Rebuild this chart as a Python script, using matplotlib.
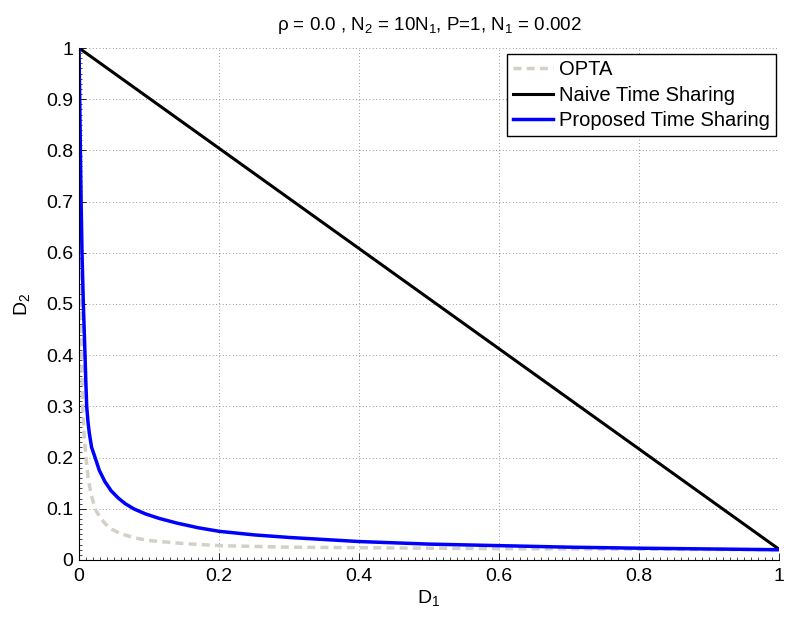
import matplotlib
matplotlib.use("Agg")
import matplotlib.pyplot as plt
from matplotlib.ticker import MultipleLocator

plt.rcParams['font.family'] = ['Liberation Sans', 'DejaVu Sans']
plt.rcParams['mathtext.default'] = 'regular'

# courbes
d1_opta = [0.0, 0.001, 0.002, 0.004, 0.0053, 0.007, 0.010, 0.013, 0.017, 0.023, 0.030, 0.038, 0.047,
           0.060, 0.080, 0.100, 0.116, 0.150, 0.200, 0.300, 0.400, 0.600, 0.800, 1.0]
d2_opta = [1.0, 0.75, 0.55, 0.40, 0.30, 0.25, 0.20, 0.16, 0.13, 0.10, 0.083, 0.070, 0.060,
           0.051, 0.043, 0.038, 0.036, 0.032, 0.028, 0.025, 0.024, 0.022, 0.021, 0.020]

d1_naive = [0.0, 1.0]
d2_naive = [1.0, 0.021]

d1_prop = [0.0, 0.001, 0.002, 0.003, 0.0043, 0.0062, 0.0086, 0.0097, 0.011, 0.0128, 0.0148, 0.018,
           0.023, 0.029, 0.037, 0.046, 0.056, 0.066, 0.078, 0.095, 0.115, 0.14, 0.17, 0.2, 0.25,
           0.3, 0.4, 0.5, 0.6, 0.7, 0.8, 0.9, 1.0]
d2_prop = [1.0, 0.90, 0.80, 0.70, 0.60, 0.50, 0.40, 0.35, 0.30, 0.27, 0.247, 0.22,
           0.20, 0.175, 0.153, 0.135, 0.121, 0.110, 0.10, 0.09, 0.081, 0.072, 0.063, 0.056, 0.049,
           0.044, 0.036, 0.031, 0.028, 0.025, 0.023, 0.0215, 0.020]

x_ticks = [0, 0.2, 0.4, 0.6, 0.8, 1]
x_labels = ['0', '0.2', '0.4', '0.6', '0.8', '1']
y_ticks = [0, 0.1, 0.2, 0.3, 0.4, 0.5, 0.6, 0.7, 0.8, 0.9, 1]
y_labels = ['0', '0.1', '0.2', '0.3', '0.4', '0.5', '0.6', '0.7', '0.8', '0.9', '1']

fig = plt.figure(figsize=(8.07, 6.18), dpi=100)
ax = fig.add_axes([0.0979, 0.0939, 0.8674, 0.8284])

ax.plot(d1_opta, d2_opta, '--', color='#d4d0c8', lw=2.5, dashes=(2.3, 1.5), label='OPTA')
ax.plot(d1_naive, d2_naive, '-', color='black', lw=2.2, label='Naive Time Sharing')
ax.plot(d1_prop, d2_prop, '-', color='#0000ff', lw=2.5, label='Proposed Time Sharing')

ax.set_xlim(0, 1)
ax.set_ylim(0, 1)
ax.set_xticks(x_ticks)
ax.set_xticklabels(x_labels)
ax.set_yticks(y_ticks)
ax.set_yticklabels(y_labels)
ax.xaxis.set_minor_locator(MultipleLocator(0.01))
ax.yaxis.set_minor_locator(MultipleLocator(0.01))
ax.tick_params(which='major', direction='in', length=5, width=0.6, labelsize=14)
ax.tick_params(axis='x', which='major', pad=6)
ax.tick_params(axis='y', which='major', pad=4)
ax.tick_params(which='minor', direction='in', length=2, width=0.5)
ax.spines['top'].set_visible(False)
ax.spines['right'].set_visible(False)
ax.grid(True, which='major', linestyle=(0, (1, 3)), color='#777777', lw=0.6)

ax.set_xlabel('D$_1$', fontsize=14, labelpad=2)
ax.set_ylabel('D$_2$', fontsize=14, labelpad=10)
ax.set_title('ρ = 0.0 , N$_2$ = 10N$_1$, P=1, N$_1$ = 0.002', fontsize=13.5, pad=13)

leg = ax.legend(loc='upper right', bbox_to_anchor=(0.996, 0.988), fontsize=14.5, frameon=True,
                fancybox=False, edgecolor='black', framealpha=1, borderaxespad=0,
                handlelength=2.0, handletextpad=0.3, borderpad=0.3, labelspacing=0.32)
leg.get_frame().set_linewidth(1.0)

fig.savefig('out.png', dpi=100)
